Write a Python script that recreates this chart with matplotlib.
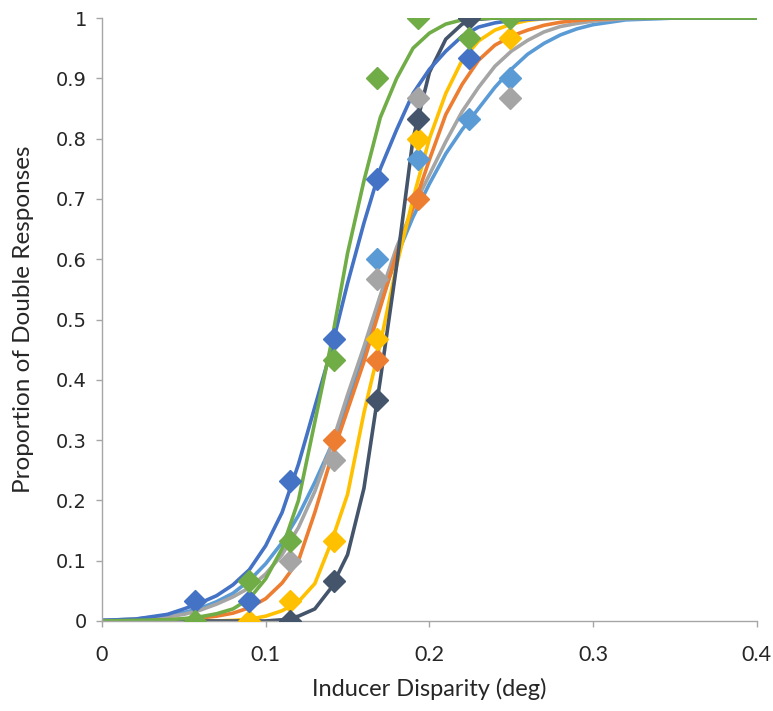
import matplotlib
matplotlib.use("Agg")
import numpy as np
import matplotlib.pyplot as plt

fit_x = [0.0, 0.02, 0.04, 0.05, 0.06, 0.07, 0.08, 0.09, 0.10, 0.11, 0.12, 0.13, 0.14, 0.15,
         0.16, 0.17, 0.18, 0.19, 0.20, 0.21, 0.22, 0.23, 0.24, 0.25, 0.26, 0.27, 0.28, 0.29,
         0.30, 0.32, 0.35, 0.40]
fit_lightblue = [0.001, 0.003, 0.009, 0.014, 0.021, 0.032, 0.046, 0.067, 0.095, 0.13, 0.175, 0.23, 0.29, 0.36,
                 0.44, 0.525, 0.605, 0.67, 0.725, 0.775, 0.815, 0.85, 0.885, 0.915, 0.94, 0.958, 0.972, 0.982,
                 0.989, 0.997, 1.0, 1.0]
fit_gray = [0.001, 0.003, 0.007, 0.011, 0.018, 0.028, 0.04, 0.055, 0.078, 0.11, 0.155, 0.215, 0.29, 0.375,
            0.455, 0.54, 0.62, 0.685, 0.74, 0.795, 0.845, 0.885, 0.92, 0.945, 0.963, 0.977, 0.986, 0.991,
            0.995, 0.999, 1.0, 1.0]
fit_orange = [0.0, 0.001, 0.002, 0.003, 0.005, 0.008, 0.013, 0.022, 0.037, 0.063, 0.10, 0.18, 0.27, 0.35,
              0.43, 0.52, 0.61, 0.685, 0.765, 0.84, 0.89, 0.93, 0.955, 0.97, 0.98, 0.988, 0.993, 0.996,
              0.998, 1.0, 1.0, 1.0]
fit_yellow = [0.0, 0.0, 0.0, 0.0, 0.0, 0.0, 0.001, 0.003, 0.008, 0.017, 0.032, 0.062, 0.13, 0.21,
              0.345, 0.46, 0.59, 0.70, 0.80, 0.875, 0.93, 0.962, 0.98, 0.99, 0.996, 0.999, 1.0, 1.0,
              1.0, 1.0, 1.0, 1.0]
fit_slate = [0.0, 0.0, 0.0, 0.0, 0.0, 0.0, 0.0, 0.0, 0.0, 0.002, 0.008, 0.02, 0.055, 0.11,
             0.22, 0.40, 0.59, 0.80, 0.91, 0.965, 0.99, 0.998, 1.0, 1.0, 1.0, 1.0, 1.0, 1.0,
             1.0, 1.0, 1.0, 1.0]
fit_blue = [0.001, 0.003, 0.011, 0.02, 0.03, 0.042, 0.06, 0.085, 0.125, 0.18, 0.26, 0.355, 0.45, 0.56,
            0.66, 0.75, 0.815, 0.875, 0.915, 0.945, 0.97, 0.985, 0.992, 0.996, 0.998, 0.999, 1.0, 1.0,
            1.0, 1.0, 1.0, 1.0]
fit_green = [0.0, 0.001, 0.002, 0.004, 0.007, 0.012, 0.02, 0.037, 0.07, 0.12, 0.20, 0.33, 0.46, 0.61,
             0.73, 0.835, 0.90, 0.95, 0.975, 0.99, 0.997, 0.999, 1.0, 1.0, 1.0, 1.0, 1.0, 1.0,
             1.0, 1.0, 1.0, 1.0]

# measured proportions (visible points only)
pts_lightblue_x = [0.168, 0.193, 0.224, 0.249]
pts_lightblue_y = [0.6, 0.767, 0.833, 0.9]
pts_gray_x = [0.115, 0.142, 0.168, 0.193, 0.249]
pts_gray_y = [0.1, 0.267, 0.567, 0.867, 0.867]
pts_orange_x = [0.142, 0.168, 0.193]
pts_orange_y = [0.3, 0.433, 0.7]
pts_yellow_x = [0.09, 0.115, 0.142, 0.168, 0.193, 0.249]
pts_yellow_y = [0.0, 0.033, 0.133, 0.467, 0.8, 0.967]
pts_slate_x = [0.115, 0.142, 0.168, 0.193, 0.224]
pts_slate_y = [0.0, 0.067, 0.367, 0.833, 1.0]
pts_blue_x = [0.057, 0.09, 0.115, 0.142, 0.168, 0.224]
pts_blue_y = [0.033, 0.033, 0.233, 0.467, 0.733, 0.933]
pts_green_x = [0.057, 0.09, 0.115, 0.142, 0.168, 0.193, 0.224, 0.249]
pts_green_y = [0.0, 0.067, 0.133, 0.433, 0.9, 1.0, 0.967, 1.0]

x_ticks = [0, 0.1, 0.2, 0.3, 0.4]
x_labels = ["0", "0.1", "0.2", "0.3", "0.4"]
y_ticks = [0, 0.1, 0.2, 0.3, 0.4, 0.5, 0.6, 0.7, 0.8, 0.9, 1.0]
y_labels = ["0", "0.1", "0.2", "0.3", "0.4", "0.5", "0.6", "0.7", "0.8", "0.9", "1"]

series = [
    (fit_lightblue, pts_lightblue_x, pts_lightblue_y, "#5B9BD5"),
    (fit_gray, pts_gray_x, pts_gray_y, "#A5A5A5"),
    (fit_orange, pts_orange_x, pts_orange_y, "#ED7D31"),
    (fit_yellow, pts_yellow_x, pts_yellow_y, "#FFC000"),
    (fit_slate, pts_slate_x, pts_slate_y, "#44546A"),
    (fit_blue, pts_blue_x, pts_blue_y, "#4472C4"),
    (fit_green, pts_green_x, pts_green_y, "#70AD47"),
]

fig = plt.figure(figsize=(7.73, 7.11), dpi=100)
ax = fig.add_axes([0.132, 0.1266, 0.847, 0.848])

for fit, px, py, col in series:
    ax.plot(fit_x, fit, color=col, lw=2.6, solid_joinstyle="round", zorder=2)
    ax.plot(px, py, ls="none", marker="D", ms=11, color=col, mec=col, zorder=3)

ax.set_xlim(0, 0.4)
ax.set_ylim(0, 1)
ax.set_xticks(x_ticks)
ax.set_xticklabels(x_labels, fontfamily="Lato", fontsize=15.5, color="#262626")
ax.set_yticks(y_ticks)
ax.set_yticklabels(y_labels, fontfamily="DejaVu Sans", fontsize=14, color="#262626")
ax.tick_params(axis="both", direction="out", length=4.5, width=1, color="#A6A6A6")
ax.tick_params(axis="x", pad=13)
ax.tick_params(axis="y", pad=6.5)

for s in ["top", "right"]:
    ax.spines[s].set_visible(False)
for s in ["left", "bottom"]:
    ax.spines[s].set_color("#A6A6A6")
    ax.spines[s].set_linewidth(1)

ax.set_xlabel("Inducer Disparity (deg)", fontfamily="Lato", fontsize=17, color="#262626", labelpad=9)
ax.set_ylabel("Proportion of Double Responses", fontfamily="Lato", fontsize=17.5, color="#262626", labelpad=16)

for lbl in ax.get_xticklabels() + ax.get_yticklabels():
    lbl.set_clip_on(False)

fig.savefig("out.png", dpi=100)
